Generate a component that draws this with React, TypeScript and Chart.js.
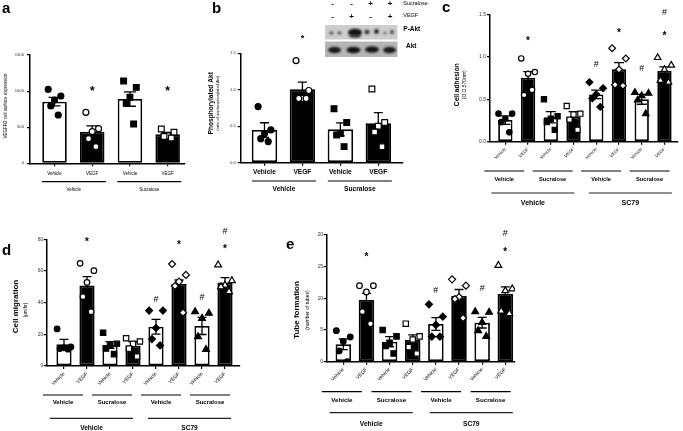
import React, { useEffect, useRef } from 'react';
import { Chart, registerables } from 'chart.js';

Chart.register(...registerables);

const FONT = '"Liberation Sans", Arial, Helvetica, sans-serif';
Chart.defaults.font.family = FONT;

// ================= DATA =================
// Panel a: VEGFR2 cell surface expression
const aCategories = ['Vehicle', 'VEGF', 'Vehicle', 'VEGF'];
const aGroups = ['Vehicle', 'Sucralose'];
const aMeans = [854, 438, 890, 401];
const aSem = [60, 80, 100, 28];
const aPoints = [
  [1025, 932, 877, 794, 669],
  [706, 480, 440, 340, 230],
  [1140, 1052, 914, 831, 545],
  [475, 430, 380, 370, 350],
];
const aMarks = [
  { index: 1, text: '*', value: 1050 },
  { index: 3, text: '*', value: 1050 },
];

// Panel b: Phosphorylated Akt
const bCategories = ['Vehicle', 'VEGF', 'Vehicle', 'VEGF'];
const bGroups = ['Vehicle', 'Sucralose'];
const bMeans = [0.448, 1.006, 0.457, 0.54];
const bSem = [0.1, 0.1, 0.09, 0.146];
const bPoints = [
  [0.77, 0.45, 0.4, 0.33, 0.29],
  [1.4, 0.99, 0.88, 0.88, 0.88],
  [0.74, 0.55, 0.4, 0.38, 0.22],
  [1.01, 0.55, 0.5, 0.42, 0.22],
];
const bMarks = [{ index: 1, text: '*', value: 1.75 }];
const bSucraloseRow = ['-', '-', '+', '+'];
const bVegfRow = ['-', '+', '-', '+'];

// Panels c, d, e share categories
const sc79Categories = ['Vehicle', 'VEGF', 'Vehicle', 'VEGF', 'Vehicle', 'VEGF', 'Vehicle', 'VEGF'];
const sc79Groups = ['Vehicle', 'Sucralose', 'Vehicle', 'Sucralose'];
const sc79SuperGroups = ['Vehicle', 'SC79'];

// Panel c: Cell adhesion
const cMeans = [0.255, 0.754, 0.287, 0.294, 0.557, 0.852, 0.499, 0.832];
const cSem = [0.05, 0.07, 0.066, 0.06, 0.05, 0.08, 0.058, 0.05];
const cPoints = [
  [0.33, 0.33, 0.27, 0.23, 0.11],
  [0.98, 0.82, 0.8, 0.55, 0.61],
  [0.5, 0.3, 0.27, 0.23, 0.14],
  [0.42, 0.33, 0.32, 0.26, 0.14],
  [0.7, 0.63, 0.56, 0.51, 0.41],
  [1.1, 0.98, 0.85, 0.67, 0.66],
  [0.58, 0.57, 0.54, 0.49, 0.33],
  [0.99, 0.9, 0.85, 0.72, 0.7],
];
const cMarks = [
  { index: 1, text: '*', value: 1.22 },
  { index: 4, text: '#', value: 0.92 },
  { index: 5, text: '*', value: 1.32 },
  { index: 6, text: '#', value: 0.87 },
  { index: 7, text: '*', value: 1.28 },
  { index: 7, text: '#', value: 1.53 },
];

// Panel d: Cell migration
const dMeans = [13.7, 50.9, 13.3, 12.8, 24.8, 51.8, 25.3, 52.8];
const dSem = [3.1, 5.5, 2.1, 2.5, 4.7, 2.5, 5.4, 3.0];
const dPoints = [
  [23.4, 12, 11.5, 11, 10.6],
  [64.8, 60.2, 52.8, 43.8, 34.3],
  [21, 14, 13, 11, 7.5],
  [17.5, 15.5, 14, 11, 6],
  [35, 35, 24, 17, 13],
  [64.4, 57.5, 53.3, 50.5, 33.7],
  [34.3, 33.3, 30.1, 18.5, 10.5],
  [63.8, 53.9, 51, 50, 46.9],
];
const dMarks = [
  { index: 1, text: '*', value: 80.6 },
  { index: 4, text: '#', value: 42.7 },
  { index: 5, text: '*', value: 78.5 },
  { index: 6, text: '#', value: 43.8 },
  { index: 7, text: '*', value: 75.8 },
  { index: 7, text: '#', value: 85.4 },
];

// Panel e: Tube formation
const eMeans = [2.74, 9.74, 3.16, 3.42, 5.95, 10.4, 6.16, 10.7];
const eSem = [0.84, 1.05, 0.8, 0.8, 1.0, 1.0, 0.84, 1.1];
const ePoints = [
  [4.9, 3.9, 3.2, 1.7, 0],
  [12, 12, 11, 7.9, 6],
  [5, 4, 3, 2.5, 1.3],
  [6, 4, 3.5, 2.3, 1.3],
  [9.05, 7.1, 5.8, 3.95, 3.95],
  [13, 12, 10.2, 9.9, 6.9],
  [7.9, 7.8, 6.2, 4.9, 4.0],
  [15.2, 11.5, 11.2, 8.0, 7.6],
];
const eMarks = [
  { index: 1, text: '*', value: 17.1 },
  { index: 4, text: '#', value: 11.3 },
  { index: 6, text: '#', value: 11.6 },
  { index: 7, text: '*', value: 17.9 },
  { index: 7, text: '#', value: 20.3 },
];

// ================= STYLE =================
const SHAPES4 = ['circle', 'circle', 'rect', 'rect'];
const SHAPES8 = ['circle', 'circle', 'rect', 'rect', 'rectRot', 'rectRot', 'triangle', 'triangle'];
const SHAPE_SCALE: Record<string, number> = { circle: 1, rect: 1.35, rectRot: 1.25, triangle: 1.4 };
const JITTER = [-0.6, 0.6, 0, -0.35, 0.35];

function drawBlot(ctx: CanvasRenderingContext2D, ox: number, oy: number) {
  const X = (v: number) => v - ox;
  const Y = (v: number) => v - oy;
  ctx.save();
  ctx.fillStyle = '#cdcdcd';
  ctx.fillRect(X(325), Y(25), 72.5, 14.5);
  ctx.fillStyle = '#b5b5b5';
  ctx.fillRect(X(325), Y(41.5), 72.5, 15.5);
  ctx.filter = 'blur(0.9px)';
  const blob = (x: number, y: number, rx: number, ry: number, c: string) => {
    ctx.fillStyle = c;
    ctx.beginPath();
    ctx.ellipse(X(x), Y(y), rx, ry, 0, 0, Math.PI * 2);
    ctx.fill();
  };
  blob(331.5, 33, 2.2, 1.8, '#555');
  blob(339.5, 33, 2, 1.8, '#555');
  blob(355, 32.5, 7, 3.8, '#111');
  blob(355, 36, 6, 1.6, '#333');
  blob(367, 32, 2.6, 2.2, '#333');
  blob(376.5, 31.5, 2.4, 2.4, '#222');
  blob(385, 33, 1.6, 1.6, '#666');
  blob(392, 32, 1.8, 2.2, '#444');
  blob(334.5, 50, 6.5, 3.2, '#1a1a1a');
  blob(353.5, 50, 7, 3.2, '#111');
  blob(372, 49.5, 7, 3.2, '#161616');
  blob(389.5, 50, 6.5, 3.2, '#1c1c1c');
  ctx.filter = 'none';
  ctx.fillStyle = '#000';
  ctx.textAlign = 'center';
  ctx.textBaseline = 'middle';
  ctx.font = `bold 8px ${FONT}`;
  const laneX = [332.7, 351.7, 370.7, 390];
  bSucraloseRow.forEach((s, i) => ctx.fillText(s, X(laneX[i]), Y(3.5)));
  bVegfRow.forEach((s, i) => ctx.fillText(s, X(laneX[i]), Y(16.5)));
  ctx.textAlign = 'left';
  ctx.font = `5.5px ${FONT}`;
  ctx.fillText(':Sucralose', X(401.7), Y(3.5));
  ctx.fillText(':VEGF', X(401.7), Y(15.7));
  ctx.font = `bold 6.5px ${FONT}`;
  ctx.fillText('P-Akt', X(403.3), Y(29.3));
  ctx.fillText('Akt', X(406), Y(46.7));
  ctx.restore();
}

type Mark = { index: number; text: string; value: number };
type TextItem = { text: string; x: number; y: number; size: number; bold?: boolean; rot?: boolean };
type Level = {
  labels: string[]; span: number; lineY: number; textY: number; half: number;
  shift0: number; shiftStep: number; size: number; bold: boolean; color?: string;
};

function Panel(p: any) {
  const ref = useRef<HTMLCanvasElement>(null);
  useEffect(() => {
    const [bx, by, bw, bh] = p.box;
    const [L, T, R, B] = p.area;
    const deco = {
      id: 'deco',
      afterDatasetDraw(chart: any, args: any) {
        if (args.index !== 0) return;
        const ctx = chart.ctx;
        const xs = chart.scales.x;
        const ys = chart.scales.y;
        ctx.save();
        ctx.strokeStyle = '#000';
        ctx.lineWidth = 1.3;
        p.means.forEach((m: number, i: number) => {
          const x = xs.getPixelForValue(i);
          const yt = ys.getPixelForValue(m + p.sem[i]);
          const yb = ys.getPixelForValue(Math.max(0, m - p.sem[i]));
          ctx.beginPath();
          ctx.moveTo(x, yb);
          ctx.lineTo(x, yt);
          ctx.moveTo(x - p.capHalf, yt);
          ctx.lineTo(x + p.capHalf, yt);
          ctx.moveTo(x - p.capHalf, yb);
          ctx.lineTo(x + p.capHalf, yb);
          ctx.stroke();
        });
        ctx.restore();
      },
      afterDraw(chart: any) {
        const ctx = chart.ctx;
        const xs = chart.scales.x;
        const ys = chart.scales.y;
        ctx.save();
        ctx.fillStyle = '#000';
        p.marks.forEach((mk: Mark) => {
          const size = mk.text === '*' ? p.markSize : p.markSize * 0.9;
          ctx.font = `${mk.text === '*' ? 'bold ' : ''}${size}px ${FONT}`;
          ctx.textAlign = 'center';
          ctx.textBaseline = 'alphabetic';
          const off = mk.text === '*' ? 0.62 * size : 0.36 * size;
          ctx.fillText(mk.text, xs.getPixelForValue(mk.index), ys.getPixelForValue(mk.value) + off);
        });
        p.levels.forEach((lv: Level) => {
          lv.labels.forEach((lab, k) => {
            const i0 = k * lv.span;
            const i1 = i0 + lv.span - 1;
            const cx = (xs.getPixelForValue(i0) + xs.getPixelForValue(i1)) / 2 + lv.shift0 + k * lv.shiftStep;
            ctx.strokeStyle = lv.color || '#000';
            ctx.lineWidth = 1.2;
            ctx.beginPath();
            ctx.moveTo(cx - lv.half, lv.lineY - by);
            ctx.lineTo(cx + lv.half, lv.lineY - by);
            ctx.stroke();
            ctx.fillStyle = '#000';
            ctx.font = `${lv.bold ? 'bold ' : ''}${lv.size}px ${FONT}`;
            ctx.textAlign = 'center';
            ctx.textBaseline = 'middle';
            ctx.fillText(lab, cx, lv.textY - by);
          });
        });
        p.texts.forEach((t: TextItem) => {
          ctx.save();
          ctx.fillStyle = '#000';
          ctx.font = `${t.bold ? 'bold ' : ''}${t.size}px ${FONT}`;
          if (t.rot) {
            ctx.translate(t.x - bx, t.y - by);
            ctx.rotate(-Math.PI / 2);
            ctx.textAlign = 'center';
            ctx.textBaseline = 'middle';
            ctx.fillText(t.text, 0, 0);
          } else {
            ctx.textAlign = 'left';
            ctx.textBaseline = 'alphabetic';
            ctx.fillText(t.text, t.x - bx, t.y - by);
          }
          ctx.restore();
        });
        if (p.extra) p.extra(ctx, bx, by);
        ctx.restore();
      },
    };

    const scatterSets = p.points.map((arr: number[], i: number) => {
      const shape = p.shapes[i];
      const open = i % 2 === 1;
      return {
        type: 'scatter',
        data: arr.map((v, j) => ({ x: i + JITTER[j] * p.jitter, y: v })),
        pointStyle: shape,
        pointRadius: p.radius * SHAPE_SCALE[shape],
        pointBackgroundColor: open ? '#fff' : '#000',
        pointBorderColor: '#000',
        pointBorderWidth: 1.2,
        order: 0,
      };
    });

    const xGrid = { display: true, offset: false, drawOnChartArea: false, drawTicks: true, tickLength: 3, color: '#000', lineWidth: 1.2 };
    const yGrid = { display: true, drawOnChartArea: false, drawTicks: true, tickLength: 3, color: '#000', lineWidth: 1.2 };
    const axisBorder = { display: true, color: '#000', width: 1.5 };

    const chart = new Chart(ref.current as HTMLCanvasElement, {
      type: 'bar',
      data: {
        datasets: [
          {
            type: 'bar',
            data: p.means.map((m: number, i: number) => ({ x: i, y: m })),
            backgroundColor: p.means.map((_: number, i: number) => (i % 2 === 1 ? '#000' : '#fff')),
            borderColor: '#000',
            borderWidth: 1.8,
            borderSkipped: false,
            barPercentage: p.barPct,
            categoryPercentage: 1,
            order: 2,
          },
          ...scatterSets,
        ],
      } as any,
      options: {
        responsive: false,
        animation: false,
        events: [],
        layout: { padding: { left: 0, top: T - by, right: bx + bw - R, bottom: 0 } },
        plugins: { legend: { display: false }, tooltip: { enabled: false } },
        scales: {
          x: {
            type: 'linear',
            offset: false,
            min: p.xMin,
            max: p.xMax,
            afterBuildTicks: (s: any) => {
              s.ticks = p.categories.map((_: string, i: number) => ({ value: i }));
            },
            afterFit: (s: any) => {
              s.height = by + bh - B;
              s.paddingLeft = 0;
              s.paddingRight = 0;
            },
            grid: xGrid,
            border: axisBorder,
            ticks: {
              autoSkip: false,
              maxRotation: p.xRotation,
              minRotation: p.xRotation,
              padding: p.xTickPad,
              color: '#000',
              font: { size: p.xTickSize, weight: p.xTickBold ? 'bold' : 'normal' },
              callback: (v: any) => p.categories[Math.round(Number(v))] ?? '',
            },
          },
          y: {
            min: 0,
            max: p.yMax,
            afterFit: (s: any) => {
              s.width = L - bx;
            },
            grid: yGrid,
            border: axisBorder,
            ticks: {
              stepSize: p.yStep,
              padding: p.yTickPad,
              color: '#333',
              font: { size: p.yTickSize },
              callback: (v: any) => Number(v).toFixed(p.yDigits),
            },
          },
        },
      } as any,
      plugins: [deco],
    });
    return () => chart.destroy();
  }, []);
  const [bx, by, bw, bh] = p.box;
  return (
    <canvas
      ref={ref}
      width={bw}
      height={bh}
      style={{ position: 'absolute', left: bx, top: by, width: bw, height: bh }}
    />
  );
}

const sc79Levels = (l1: number[], l2: number[], s1: number[], s2: number[], f1: number, f2: number): Level[] => [
  { labels: sc79Groups, span: 2, lineY: l1[0], textY: l1[1], half: 20, shift0: s1[0], shiftStep: s1[1], size: f1, bold: true },
  { labels: sc79SuperGroups, span: 4, lineY: l2[0], textY: l2[1], half: 41.5, shift0: s2[0], shiftStep: s2[1], size: f2, bold: true, color: '#222' },
];

export default function App() {
  return (
    <div style={{ position: 'absolute', left: 0, top: 0, width: 683, height: 431, background: '#fff', overflow: 'hidden' }}>
      <Panel
        box={[0, 0, 205, 215]}
        area={[30, 55, 185, 163.3]}
        categories={aCategories}
        means={aMeans}
        sem={aSem}
        points={aPoints}
        shapes={SHAPES4}
        marks={aMarks}
        xMin={-0.65}
        xMax={3.46}
        yMax={1500}
        yStep={500}
        yDigits={0}
        yTickSize={4.2}
        yTickPad={3}
        xTickSize={4.5}
        xTickBold={false}
        xRotation={0}
        xTickPad={4.5}
        barPct={0.65}
        capHalf={6}
        jitter={0.28}
        radius={3}
        markSize={12}
        levels={[{ labels: aGroups, span: 2, lineY: 181.7, textY: 190, half: 32, shift0: 0.5, shiftStep: 0, size: 4.5, bold: false }]}
        texts={[
          { text: 'a', x: 2, y: 12.7, size: 15, bold: true },
          { text: 'VEGFR2 cell surface expression', x: 5.7, y: 106, size: 4.5, rot: true },
        ]}
      />
      <Panel
        box={[205, 0, 235, 215]}
        area={[240.7, 53.3, 403, 162.7]}
        categories={bCategories}
        means={bMeans}
        sem={bSem}
        points={bPoints}
        shapes={SHAPES4}
        marks={bMarks}
        xMin={-0.627}
        xMax={3.651}
        yMax={1.5}
        yStep={0.5}
        yDigits={1}
        yTickSize={4.3}
        yTickPad={1.7}
        xTickSize={6.6}
        xTickBold={true}
        xRotation={0}
        xTickPad={2.5}
        barPct={0.67}
        capHalf={4.5}
        jitter={0.28}
        radius={3}
        markSize={9}
        levels={[{ labels: bGroups, span: 2, lineY: 181, textY: 189, half: 32, shift0: 0.5, shiftStep: 0, size: 6.6, bold: true }]}
        texts={[
          { text: 'b', x: 212, y: 13.3, size: 15, bold: true },
          { text: 'Phosphorylated Akt', x: 211.3, y: 103.3, size: 6.6, bold: true, rot: true },
          { text: '(ratio of unphosphorylated Akt)', x: 217.7, y: 103.3, size: 4, rot: true },
        ]}
        extra={drawBlot}
      />
      <Panel
        box={[440, 0, 243, 215]}
        area={[490, 14.3, 680, 141.7]}
        categories={sc79Categories}
        means={cMeans}
        sem={cSem}
        points={cPoints}
        shapes={SHAPES8}
        marks={cMarks}
        xMin={-0.674}
        xMax={7.587}
        yMax={1.5}
        yStep={0.5}
        yDigits={1}
        yTickSize={5}
        yTickPad={1}
        xTickSize={4.3}
        xTickBold={false}
        xRotation={45}
        xTickPad={2}
        barPct={0.63}
        capHalf={5}
        jitter={0.5}
        radius={2.7}
        markSize={10}
        levels={sc79Levels([171, 179], [193, 203], [-12.5, 3], [-6.5, 6.5], 5.7, 7)}
        texts={[
          { text: 'c', x: 442, y: 11.7, size: 15, bold: true },
          { text: 'Cell adhesion', x: 457, y: 84.7, size: 6.6, bold: true, rot: true },
          { text: '(O.D.570nm)', x: 465, y: 84.7, size: 5, rot: true },
        ]}
      />
      <Panel
        box={[0, 215, 250, 216]}
        area={[46.7, 239.3, 240, 366]}
        categories={sc79Categories}
        means={dMeans}
        sem={dSem}
        points={dPoints}
        shapes={SHAPES8}
        marks={dMarks}
        xMin={-0.752}
        xMax={7.652}
        yMax={80}
        yStep={20}
        yDigits={0}
        yTickSize={5}
        yTickPad={0.5}
        xTickSize={5}
        xTickBold={false}
        xRotation={45}
        xTickPad={2}
        barPct={0.66}
        capHalf={4.5}
        jitter={0.5}
        radius={2.8}
        markSize={10}
        levels={sc79Levels([395, 402.7], [418.3, 428.3], [-12.5, 3], [-7, 6], 6, 6.6)}
        texts={[
          { text: 'd', x: 2, y: 255, size: 15, bold: true },
          { text: 'Cell migration', x: 15.5, y: 306.5, size: 8, bold: true, rot: true },
          { text: '(µm/hr)', x: 25.7, y: 310, size: 4.5, rot: true },
        ]}
      />
      <Panel
        box={[285, 215, 240, 216]}
        area={[326.7, 235, 515, 361.7]}
        categories={sc79Categories}
        means={eMeans}
        sem={eSem}
        points={ePoints}
        shapes={SHAPES8}
        marks={eMarks}
        xMin={-0.717}
        xMax={7.419}
        yMax={20}
        yStep={5}
        yDigits={0}
        yTickSize={5.2}
        yTickPad={0.5}
        xTickSize={5}
        xTickBold={false}
        xRotation={45}
        xTickPad={2}
        barPct={0.67}
        capHalf={4.5}
        jitter={0.5}
        radius={2.8}
        markSize={10}
        levels={sc79Levels([391.7, 400], [412.7, 424.3], [-13, 3.3], [-6.8, 7.5], 6.2, 6.6)}
        texts={[
          { text: 'e', x: 286, y: 249.3, size: 15, bold: true },
          { text: 'Tube formation', x: 297, y: 310, size: 8, bold: true, rot: true },
          { text: '(number of tubes)', x: 308, y: 310, size: 5, rot: true },
        ]}
      />
    </div>
  );
}
